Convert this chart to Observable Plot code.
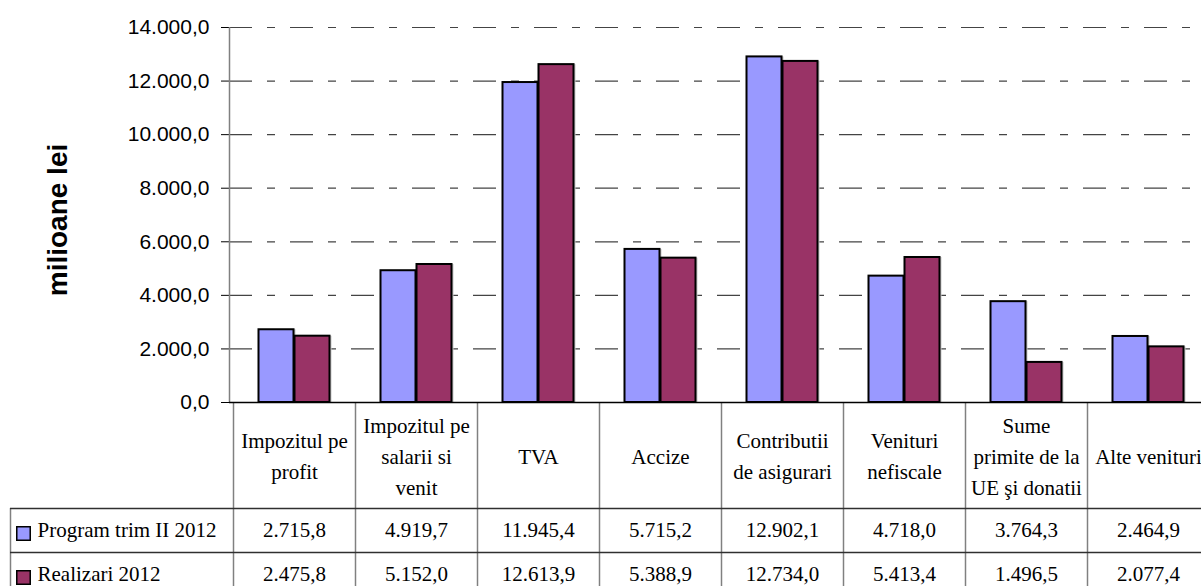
<!DOCTYPE html>
<html><head><meta charset="utf-8">
<script src="https://cdn.jsdelivr.net/npm/d3@7"></script>
<script src="https://cdn.jsdelivr.net/npm/@observablehq/plot@0.6"></script>
<style>
html,body{margin:0;padding:0;background:#fff;}
#chart svg{display:block;}
g[aria-label^="y-axis"] text{font-family:"Liberation Sans",Arial,sans-serif;font-size:21px;fill:#000;}
g[aria-label="ylabel"] text{letter-spacing:1px;}
</style></head><body><div id="chart"></div>
<script>
const categories = ["Impozitul pe\nprofit", "Impozitul pe\nsalarii si\nvenit", "TVA", "Accize", "Contributii\nde asigurari", "Venituri\nnefiscale", "Sume\nprimite de la\nUE şi donatii", "Alte venituri"];
const program = [2715.8, 4919.7, 11945.4, 5715.2, 12902.1, 4718.0, 3764.3, 2464.9];
const realizari = [2475.8, 5152.0, 12613.9, 5388.9, 12734.0, 5413.4, 1496.5, 2077.4];
const seriesNames = ["Program trim II 2012", "Realizari 2012"];
const yTicks = [0, 2000, 4000, 6000, 8000, 10000, 12000, 14000];
const colors = ["#9999FF", "#993366"];

const loc = d3.formatLocale({decimal: ",", thousands: ".", grouping: [3], currency: ["", ""]});
const fmt = loc.format(",.1f");
const rows = categories.map((c, i) => ({cat: c, prog: program[i], real: realizari[i]}));

const serif = "Liberation Serif, Times New Roman, serif";
const sans = "Liberation Sans, Arial, sans-serif";

function tableLines(index, scales, values, dims) {
  const {width, height, marginLeft, marginTop, marginBottom} = dims;
  const x = scales.x;
  const starts = categories.map(c => x(c));
  const bw = starts[1] - starts[0];
  const bounds = [...starts, starts[starts.length - 1] + bw];
  const y0 = height - marginBottom;
  const g = d3.create("svg:g");
  const line = (x1, y1, x2, y2, c, w = 1) => g.append("line")
    .attr("x1", x1).attr("y1", y1).attr("x2", x2).attr("y2", y2)
    .attr("stroke", c).attr("stroke-width", w);
  line(marginLeft + 0.5, marginTop, marginLeft + 0.5, y0, "#808080", 1.5);
  for (const b of bounds) line(b + 0.5, y0, b + 0.5, height, "#808080", 1.5);
  line(10.5, y0 + 106, 10.5, height, "#808080", 1.5);
  line(10, y0 + 106.5, width, y0 + 106.5, "#303030", 1.5);
  line(10, y0 + 150.5, width, y0 + 150.5, "#303030", 1.5);
  line(marginLeft, y0 + 0.5, width, y0 + 0.5, "#000", 1.5);
  return g.node();
}

const cellText = {fontFamily: serif, fontSize: 21, fill: "#000", lineAnchor: "middle"};

const chart = Plot.plot({
  width: 1201,
  height: 586,
  marginLeft: 229,
  marginRight: 0,
  marginTop: 27,
  marginBottom: 184,
  style: {background: "white", color: "black", overflow: "hidden"},
  x: {domain: categories, range: [229, 1212], padding: 0, axis: null},
  y: {domain: [0, 14000], ticks: yTicks, tickFormat: fmt, tickSize: 8, tickPadding: 12, label: null},
  marks: [
    Plot.ruleY(yTicks.filter(t => t > 0), {stroke: "#444", strokeWidth: 1.2, strokeDasharray: "23,15,8,15"}),
    Plot.barY(rows, {x: "cat", y: "prog", fill: "#c8c8c8", insetLeft: 27.5, insetRight: 59.5}),
    Plot.barY(rows, {x: "cat", y: "real", fill: "#c8c8c8", insetLeft: 63.5, insetRight: 23.5}),
    Plot.barY(rows, {x: "cat", y: "prog", fill: colors[0], stroke: "#000", strokeWidth: 2, insetLeft: 25.5, insetRight: 61.5}),
    Plot.barY(rows, {x: "cat", y: "real", fill: colors[1], stroke: "#000", strokeWidth: 2, insetLeft: 61.5, insetRight: 25.5}),
    tableLines,
    Plot.text(categories, {x: d => d, text: d => d, frameAnchor: "bottom", dy: 51.5, lineHeight: 1.47, textAnchor: "middle", ...cellText}),
    Plot.text(rows, {x: "cat", text: d => fmt(d.prog), frameAnchor: "bottom", dy: 128, textAnchor: "middle", ...cellText}),
    Plot.text(rows, {x: "cat", text: d => fmt(d.real), frameAnchor: "bottom", dy: 172, textAnchor: "middle", ...cellText}),
    Plot.dot([seriesNames[0]], {frameAnchor: "bottom-left", dx: 23 - 229, dy: 131, symbol: "square", r: 7.6, fill: colors[0], stroke: "#000", strokeWidth: 1.5}),
    Plot.dot([seriesNames[1]], {frameAnchor: "bottom-left", dx: 23 - 229, dy: 175, symbol: "square", r: 7.6, fill: colors[1], stroke: "#000", strokeWidth: 1.5}),
    Plot.text([seriesNames[0]], {text: d => d, frameAnchor: "bottom-left", dx: 37 - 229, dy: 128, textAnchor: "start", ...cellText}),
    Plot.text([seriesNames[1]], {text: d => d, frameAnchor: "bottom-left", dx: 37 - 229, dy: 172, textAnchor: "start", ...cellText}),
    Plot.text(["milioane lei"], {text: d => d, frameAnchor: "left", dx: -171, dy: 5, rotate: -90, textAnchor: "middle", lineAnchor: "middle", fontFamily: sans, fontSize: 28, fontWeight: "bold", fill: "#000", ariaLabel: "ylabel"})
  ]
});
document.getElementById("chart").appendChild(chart);
</script>
</body></html>
